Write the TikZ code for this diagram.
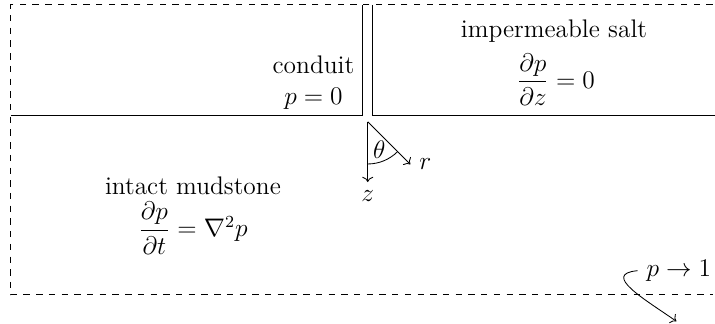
\documentclass[tikz,border=0pt,12pt]{standalone}
\usepackage{amsmath}
\usetikzlibrary{arrows.meta, positioning, calc}

\begin{document}
\begin{tikzpicture}[>=To, thin]
  \useasboundingbox (-6.10,-3.45) rectangle (5.76,1.92);

  % Boundary of the domain
  \coordinate (tr) at (5.72,1.84);
  \coordinate (tl) at (-5.92,1.84);
  \coordinate (bl) at (-5.92,-2.97);
  \coordinate (br) at (5.72,-2.97);
  \draw[dashed] (tr) -- (tl) -- (bl) -- (br);

  % Surface and conduit walls
  \coordinate (sl) at (-5.92,0);
  \coordinate (sr) at (5.76,0);
  \draw (sl) -- (-0.08,0) -- (-0.08,1.84);
  \draw (0.08,1.84) -- (0.08,0) -- (sr);

  % Regions
  \node[align=center] (conduit) at (-0.90,0.55) {conduit\\$p=0$};
  \node (salt) at (3.09,1.41) {impermeable salt};
  \node (saltbc) at (3.12,0.60) {$\dfrac{\partial p}{\partial z}=0$};
  \node (mudstone) at (-2.90,-1.16) {intact mudstone};
  \node (diffusion) at (-2.90,-1.86) {$\dfrac{\partial p}{\partial t}=\nabla^2 p$};

  % Coordinate system
  \coordinate (o) at (0,-0.1);
  \coordinate (zend) at ($(o)+(0,-1)$);
  \coordinate (rend) at ($(o)+(-45:1)$);
  \draw[->] (o) -- (zend) node[below] (zlabel) {$z$};
  \draw[->] (o) -- (rend) node[right] (rlabel) {$r$};
  \draw ($(o)+(0,-0.7)$) arc[start angle=-90, end angle=-45, radius=0.7];
  \node (theta) at ($(o)+(-67.5:0.5)$) {$\theta$};

  % Far field
  \node (farfield) at (5.16,-2.57) {$p\to 1$};
  \coordinate (infty) at (5.12,-3.41);
  \draw[->] (farfield.west) to[out=185, in=145, looseness=1.5] (infty);
\end{tikzpicture}
\end{document}
